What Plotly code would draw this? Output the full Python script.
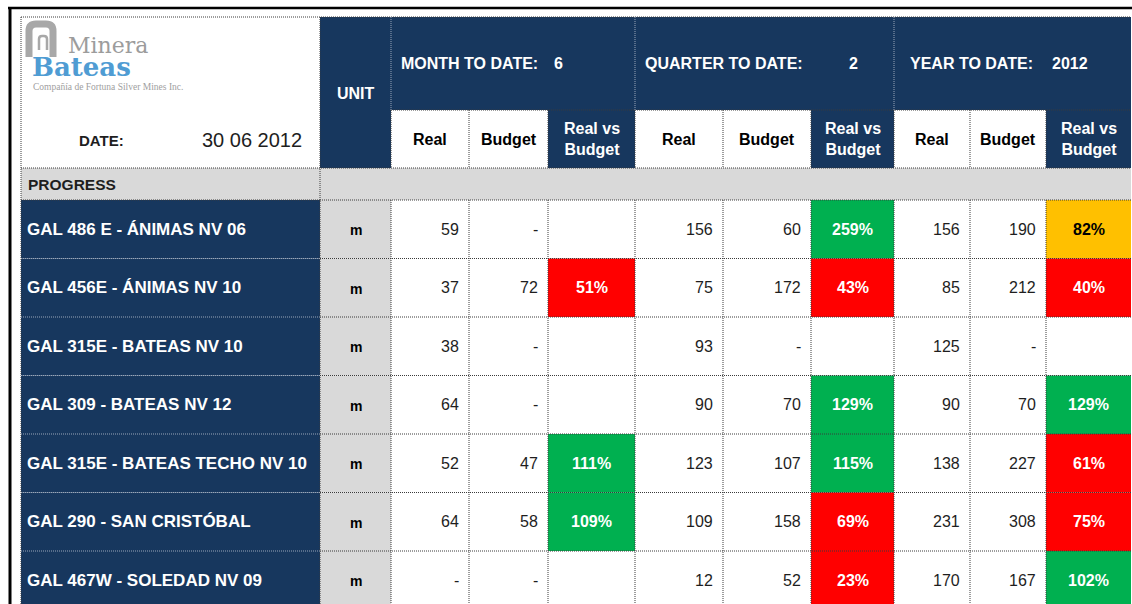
import plotly.graph_objects as go

# ------------------------------------------------------------------ data
report_date = "30 06 2012"
month_to_date = "6"
quarter_to_date = "2"
year_to_date = "2012"
section_name = "PROGRESS"
company_top = "Minera"
company_bottom = "Bateas"
company_sub = "Compañía de Fortuna Silver Mines Inc."

works = [
    "GAL 486 E - ÁNIMAS NV 06",
    "GAL 456E - ÁNIMAS NV 10",
    "GAL 315E - BATEAS NV 10",
    "GAL 309 - BATEAS NV 12",
    "GAL 315E - BATEAS TECHO NV 10",
    "GAL 290 - SAN CRISTÓBAL",
    "GAL 467W - SOLEDAD NV 09",
]
units = ["m", "m", "m", "m", "m", "m", "m"]

mtd_real = [59, 37, 38, 64, 52, 64, None]
mtd_budget = [None, 72, None, None, 47, 58, None]
mtd_pct = [None, 51, None, None, 111, 109, None]

qtd_real = [156, 75, 93, 90, 123, 109, 12]
qtd_budget = [60, 172, None, 70, 107, 158, 52]
qtd_pct = [259, 43, None, 129, 115, 69, 23]

ytd_real = [156, 85, 125, 90, 138, 231, 170]
ytd_budget = [190, 212, None, 70, 227, 308, 167]
ytd_pct = [82, 40, None, 129, 61, 75, 102]

period_labels = ["MONTH TO DATE:", "QUARTER TO DATE:", "YEAR TO DATE:"]
period_values = [month_to_date, quarter_to_date, year_to_date]
sub_labels = ["Real", "Budget", "Real vs<br>Budget"]

# ------------------------------------------------------------------ layout / style
W, H = 1132, 604
col_edges = [21, 320, 391, 469, 548, 635, 723, 811, 894, 970, 1046, 1131]
y_top, y_sub, y_head_end = 17, 110, 168
y_sec_end = 200
row_h = 58.5
row_edges = [y_sec_end + i * row_h for i in range(len(works) + 1)]

NAVY = "#17375E"
GREY = "#D9D9D9"
GREEN = "#00B050"
RED = "#FF0000"
ORANGE = "#FFC000"
DOT_DARK = "#3a3a3a"
DOT_LIGHT = "#9aa6b8"
TXT = "#1e1e1e"
SANS = "Liberation Sans, Arial, sans-serif"

shapes = []
annotations = []


def rect(x0, y0, x1, y1, color):
    shapes.append(dict(type="rect", xref="x", yref="y", x0=x0, y0=y0, x1=x1, y1=y1,
                       fillcolor=color, line=dict(width=0), layer="below"))


def dline(x0, y0, x1, y1, color=DOT_DARK):
    shapes.append(dict(type="line", xref="x", yref="y", x0=x0, y0=y0, x1=x1, y1=y1,
                       line=dict(color=color, width=1, dash="1px,1px"), layer="above"))


def text(x, y, s, size=16, color="white", bold=True, xanchor="center", family=SANS):
    annotations.append(dict(x=x, y=y, xref="x", yref="y", text=s, showarrow=False,
                            xanchor=xanchor, yanchor="middle",
                            font=dict(family=family, size=size, color=color,
                                      weight="bold" if bold else "normal"),
                            align="center"))


def pct_color(v):
    if v >= 100:
        return GREEN
    if v >= 80:
        return ORANGE
    return RED


def fmt(v):
    return "-" if v is None else f"{v:,}"


# ---------------- header fills
rect(col_edges[1], y_top, col_edges[2], y_head_end, NAVY)          # UNIT
rect(col_edges[2], y_top, col_edges[11], y_sub, NAVY)              # period groups
for g in range(3):
    c0 = 2 + g * 3
    rect(col_edges[c0 + 2], y_sub, col_edges[c0 + 3], y_head_end, NAVY)  # Real vs Budget

# section row
rect(col_edges[0], y_head_end, col_edges[11], y_sec_end, GREY)

# data rows
for i in range(len(works)):
    y0, y1 = row_edges[i], row_edges[i + 1]
    rect(col_edges[0], y0, col_edges[1], y1, NAVY)
    rect(col_edges[1], y0, col_edges[2], y1, GREY)
    for g, pcts in enumerate([mtd_pct, qtd_pct, ytd_pct]):
        c = 2 + g * 3 + 2
        if pcts[i] is not None:
            rect(col_edges[c], y0, col_edges[c + 1], y1, pct_color(pcts[i]))

# ---------------- dotted grid
bottom = row_edges[-1]
dline(col_edges[0], y_top, col_edges[11], y_top)
dline(col_edges[2], y_sub, col_edges[11], y_sub)
dline(col_edges[0], y_head_end, col_edges[11], y_head_end)
dline(col_edges[0], y_top, col_edges[0], bottom)
dline(col_edges[1], y_top, col_edges[1], bottom)
dline(col_edges[2], y_top, col_edges[2], y_sub, DOT_LIGHT)
dline(col_edges[2], y_sub, col_edges[2], y_head_end)
for g in (1, 2):
    dline(col_edges[2 + g * 3], y_top, col_edges[2 + g * 3], y_sub, DOT_LIGHT)
for c in range(3, 11):
    dline(col_edges[c], y_sub, col_edges[c], y_head_end)
for c in range(2, 11):
    dline(col_edges[c], y_sec_end, col_edges[c], bottom)
for i, y in enumerate(row_edges):
    dline(col_edges[0], y, col_edges[1], y, DOT_DARK if i == 0 else DOT_LIGHT)
    dline(col_edges[1], y, col_edges[11], y)

# outer black frame
shapes.append(dict(type="line", xref="x", yref="y", x0=8, y0=8, x1=W, y1=8,
                   line=dict(color="black", width=2.5), layer="above"))
shapes.append(dict(type="line", xref="x", yref="y", x0=10, y0=8, x1=10, y1=H,
                   line=dict(color="black", width=3), layer="above"))

# ---------------- logo
shapes.append(dict(type="path", xref="x", yref="y",
                   path="M 29 57 L 29 31 Q 29 24 36 24 L 46 24 Q 53 24 53 31 L 53 57",
                   line=dict(color="#A8A8A8", width=7), layer="above"))
shapes.append(dict(type="path", xref="x", yref="y",
                   path="M 39 50 L 39 39 Q 39 36 42 36 L 44 36 Q 47 36 47 39 L 47 50",
                   line=dict(color="#A8A8A8", width=2.5), layer="above"))
text(66, 45, company_top, size=22, color="#9C9C9C", bold=False, xanchor="left",
     family="DejaVu Serif, serif")
text(30, 67, company_bottom, size=26, color="#4F9CD3", bold=True, xanchor="left",
     family="DejaVu Serif, serif")
text(31, 87, company_sub, size=9.5, color="#A0A0A0",
     bold=False, xanchor="left", family="Liberation Serif, serif")
text(101, 140, "DATE:", size=15, color=TXT, bold=True)
text(252, 140, report_date, size=20, color=TXT, bold=False)

# ---------------- header texts
text((col_edges[1] + col_edges[2]) / 2, 93, "UNIT", size=16)
period_label_x = [399, 643, 908]
period_value_x = [552, 853, 1050]
period_value_anchor = ["left", "center", "left"]
for g in range(3):
    text(period_label_x[g], 63, period_labels[g], size=16, xanchor="left")
    text(period_value_x[g], 63, period_values[g], size=16, xanchor=period_value_anchor[g])
    for k in range(3):
        c = 2 + g * 3 + k
        cx = (col_edges[c] + col_edges[c + 1]) / 2
        text(cx, 139, sub_labels[k], size=16, color="white" if k == 2 else "black")

text(26, 184, section_name, size=15.5, color=TXT, xanchor="left")

# ---------------- data texts
for i, name in enumerate(works):
    cy = (row_edges[i] + row_edges[i + 1]) / 2
    text(25, cy, name, size=17, color="white", xanchor="left")
    text((col_edges[1] + col_edges[2]) / 2, cy + 1, units[i], size=14, color="black")
    for g, (real, bud, pcts) in enumerate([(mtd_real, mtd_budget, mtd_pct),
                                           (qtd_real, qtd_budget, qtd_pct),
                                           (ytd_real, ytd_budget, ytd_pct)]):
        c = 2 + g * 3
        text(col_edges[c + 1] - 8, cy, fmt(real[i]), size=16, color=TXT, bold=False, xanchor="right")
        text(col_edges[c + 2] - 8, cy, fmt(bud[i]), size=16, color=TXT, bold=False, xanchor="right")
        if pcts[i] is not None:
            cx = (col_edges[c + 2] + col_edges[c + 3]) / 2
            col = "black" if pct_color(pcts[i]) == ORANGE else "white"
            text(cx, cy, f"{pcts[i]}%", size=16, color=col)

fig = go.Figure()
fig.add_trace(go.Scatter(x=[0], y=[0], mode="markers", marker=dict(opacity=0),
                         hoverinfo="skip", showlegend=False))
fig.update_layout(
    width=W, height=H,
    margin=dict(l=0, r=0, t=0, b=0),
    paper_bgcolor="white", plot_bgcolor="white",
    xaxis=dict(range=[0, W], visible=False, fixedrange=True),
    yaxis=dict(range=[H, 0], visible=False, fixedrange=True),
    shapes=shapes, annotations=annotations, showlegend=False,
)
fig.write_html("out.html",
               config={"displayModeBar": False, "staticPlot": True},
               post_script="document.body.style.margin='0';document.body.style.overflow='hidden';")
